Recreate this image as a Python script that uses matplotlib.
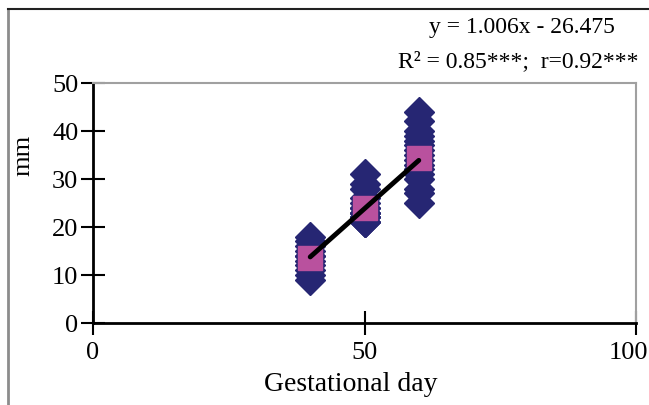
import numpy as np
import matplotlib
matplotlib.use('Agg')
import matplotlib.pyplot as plt
from matplotlib.lines import Line2D
from matplotlib.transforms import ScaledTranslation

plt.rcParams['font.family'] = ['Liberation Serif', 'DejaVu Serif']

day40 = [9, 10, 11, 12, 13, 14, 14, 15, 16, 17, 18]
day50 = [21, 21, 21, 22, 22, 22, 23, 23, 23, 24, 24, 25, 26, 28, 29, 31]
day60 = [25, 27, 28, 30, 31, 32, 33, 34, 35, 36, 37, 38, 39, 40, 42, 44]
days = [40, 50, 60]
groups = [day40, day50, day60]

# trendline from the chart label
slope, intercept = 1.006, -26.475
eq_line1 = 'y = 1.006x - 26.475'
eq_line2 = 'R² = 0.85***;  r=0.92***'

xticks = [0, 50, 100]
yticks = [0, 10, 20, 30, 40, 50]

navy = '#262673'
pink = '#B9519E'

fig = plt.figure(figsize=(6.49, 4.05), dpi=100)
ax = fig.add_axes([93/649, 1-323/405, (636-93)/649, (323-83)/405])

for d, g in zip(days, groups):
    ax.plot([d]*len(g), g, 'D', color=navy, ms=15, mec=navy, zorder=2, clip_on=False)
means = [np.mean(g) for g in groups]
ax.plot(days, means, 's', color=pink, ms=17.5, mec=pink, zorder=3)

xl = np.array([min(days), max(days)])
ax.plot(xl, slope*xl + intercept, color='black', lw=3.5, solid_capstyle='round', zorder=4)

ax.set_xlim(0, 100)
ax.set_ylim(0, 50)
ax.set_xticks(xticks)
ax.set_yticks(yticks)
ax.tick_params(direction='inout', length=17, width=1.5, labelsize=19, color='black')
ax.tick_params(axis='y', pad=2)
ax.tick_params(axis='x', pad=5)
for s in ['left', 'bottom']:
    ax.spines[s].set_linewidth(2)
    ax.spines[s].set_color('black')
for s in ['top', 'right']:
    ax.spines[s].set_linewidth(1.5)
    ax.spines[s].set_color('#A0A0A0')

# keep "100" inside the picture, as in the reference
last = ax.get_xticklabels()[-1]
last.set_transform(last.get_transform() + ScaledTranslation(-8/100, 0, fig.dpi_scale_trans))

ax.set_ylabel('mm', fontsize=19)
ax.yaxis.set_label_coords(-0.107, 0.70)
ax.set_xlabel('Gestational day', fontsize=20, va='center')
ax.xaxis.set_label_coords(0.475, -0.258)

fig.text(522/649, 1-27/405, eq_line1, ha='center', va='center', fontsize=17)
fig.text(518/649, 1-62/405, eq_line2, ha='center', va='center', fontsize=17)

# outer chart frame
fig.add_artist(Line2D([8/649, 8/649], [0, 1-9/405], color='#8C8C8C', lw=2))
fig.add_artist(Line2D([8/649, 1], [1-9/405, 1-9/405], color='#222222', lw=1.5))

fig.savefig('out.png', dpi=100)
